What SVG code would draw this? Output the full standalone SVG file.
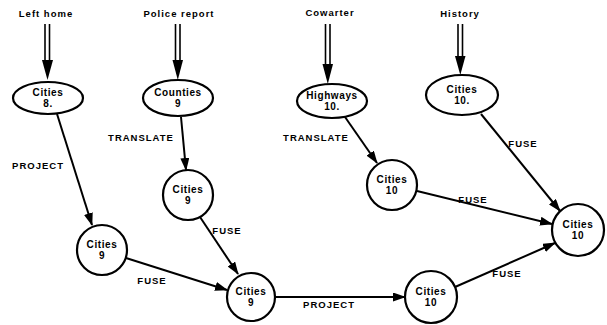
<svg xmlns="http://www.w3.org/2000/svg" width="607" height="325" viewBox="0 0 607 325">
<style>
.node{fill:#fff;stroke:#000;stroke-width:2.2}
.nt{font-family:"Liberation Sans",Arial,sans-serif;font-weight:bold;font-size:10px;text-anchor:middle;fill:#000;letter-spacing:0.6px}
.lbl{font-family:"Liberation Sans",Arial,sans-serif;font-weight:bold;font-size:9.5px;text-anchor:middle;fill:#000;letter-spacing:1px}
.edge{stroke:#000;stroke-width:2;fill:none;marker-end:url(#ah)}
.dbl{stroke:#000;stroke-width:1.6;fill:none}
.head{fill:#000}
</style>
<defs>
<marker id="ah" viewBox="0 0 13 9" refX="12" refY="4.5" markerWidth="13" markerHeight="9" markerUnits="userSpaceOnUse" orient="auto">
<path d="M0,0 L13,4.5 L0,9 Z" fill="#000"/>
</marker>
</defs>
<rect width="607" height="325" fill="#fff"/>
<g id="sources">
<g id="src-lefthome"><text class="lbl" x="46" y="17">Left home</text>
<line class="dbl" x1="45" y1="24" x2="45" y2="62"/><line class="dbl" x1="49.5" y1="24" x2="49.5" y2="62"/>
<path class="head" d="M42,60 L53,60 L47.5,80 Z"/></g>
<g id="src-police"><text class="lbl" x="179" y="17">Police report</text>
<line class="dbl" x1="175.5" y1="24" x2="175.5" y2="62"/><line class="dbl" x1="180" y1="24" x2="180" y2="62"/>
<path class="head" d="M172.5,60 L183,60 L177.8,80 Z"/></g>
<g id="src-coworker"><text class="lbl" x="330" y="16">Cowarter</text>
<line class="dbl" x1="325.5" y1="24" x2="325.5" y2="66"/><line class="dbl" x1="330" y1="24" x2="330" y2="66"/>
<path class="head" d="M322.5,64 L333,64 L327.8,84 Z"/></g>
<g id="src-history"><text class="lbl" x="460" y="17">History</text>
<line class="dbl" x1="458" y1="24" x2="458" y2="58"/><line class="dbl" x1="462.5" y1="24" x2="462.5" y2="58"/>
<path class="head" d="M455,56 L465.5,56 L460.3,75 Z"/></g>
</g>
<g id="connectors">
<line class="edge" x1="57" y1="114" x2="92" y2="225"/>
<line class="edge" x1="181" y1="117" x2="186" y2="170"/>
<line class="edge" x1="200" y1="217" x2="238" y2="274"/>
<line class="edge" x1="126" y1="258" x2="227" y2="290"/>
<line class="edge" x1="275" y1="297" x2="405" y2="297"/>
<line class="edge" x1="345" y1="117" x2="377" y2="163"/>
<line class="edge" x1="481" y1="114" x2="560" y2="211"/>
<line class="edge" x1="417" y1="191" x2="552" y2="224"/>
<line class="edge" x1="455" y1="287" x2="555" y2="243"/>
<text class="lbl" x="38" y="169">PROJECT</text>
<text class="lbl" x="141" y="141">TRANSLATE</text>
<text class="lbl" x="227" y="234">FUSE</text>
<text class="lbl" x="152" y="284">FUSE</text>
<text class="lbl" x="329" y="308">PROJECT</text>
<text class="lbl" x="316" y="141">TRANSLATE</text>
<text class="lbl" x="523" y="147">FUSE</text>
<text class="lbl" x="473" y="203">FUSE</text>
<text class="lbl" x="507" y="277">FUSE</text>
</g>
<g id="n-cities8"><ellipse class="node" cx="48" cy="98" rx="35" ry="16"/><text class="nt" x="48" y="96">Cities</text><text class="nt" x="48" y="107">8.</text></g>
<g id="n-counties9"><ellipse class="node" cx="178" cy="98" rx="35" ry="18"/><text class="nt" x="178" y="96">Counties</text><text class="nt" x="178" y="107">9</text></g>
<g id="n-highways10"><ellipse class="node" cx="332" cy="101" rx="35" ry="17"/><text class="nt" x="332" y="99">Highways</text><text class="nt" x="332" y="110">10.</text></g>
<g id="n-history10"><ellipse class="node" cx="462" cy="95" rx="36" ry="20"/><text class="nt" x="462" y="93">Cities</text><text class="nt" x="462" y="104">10.</text></g>
<g id="n-cities9a"><circle class="node" cx="102" cy="250" r="25"/><text class="nt" x="102" y="248">Cities</text><text class="nt" x="102" y="259">9</text></g>
<g id="n-cities9b"><circle class="node" cx="188" cy="195" r="25"/><text class="nt" x="188" y="193">Cities</text><text class="nt" x="188" y="204">9</text></g>
<g id="n-cities9c"><circle class="node" cx="251" cy="297" r="24"/><text class="nt" x="251" y="295">Cities</text><text class="nt" x="251" y="306">9</text></g>
<g id="n-cities10a"><circle class="node" cx="392" cy="185" r="25"/><text class="nt" x="392" y="183">Cities</text><text class="nt" x="392" y="194">10</text></g>
<g id="n-cities10b"><circle class="node" cx="431" cy="297" r="26"/><text class="nt" x="431" y="295">Cities</text><text class="nt" x="431" y="306">10</text></g>
<g id="n-cities10c"><circle class="node" cx="578" cy="230" r="26"/><text class="nt" x="578" y="228">Cities</text><text class="nt" x="578" y="239">10</text></g>
</svg>
